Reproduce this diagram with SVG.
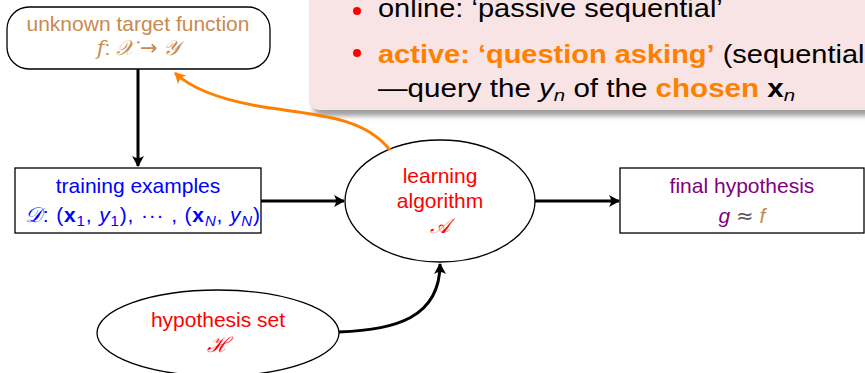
<svg xmlns="http://www.w3.org/2000/svg" width="865" height="373" viewBox="0 0 865 373">
<style>
text{font-family:"Liberation Sans",Arial,sans-serif;font-size:21px}
.node{fill:#fff;stroke:#000;stroke-width:1.3}
.conn{fill:none;stroke:#000;stroke-width:3}
.tan{fill:#c88a4e}
.blue{fill:#0000ff}
.red{fill:#ff0000}
.pur{fill:#800080}
.it{font-style:italic}
.math{font-family:"DejaVu Serif","Liberation Serif",serif}
.sym{font-family:"DejaVu Sans",sans-serif}
.pk{font-size:29px}
.b{font-weight:bold}
.or{fill:#ff8000}
</style>
<defs>
<marker id="ah" markerUnits="userSpaceOnUse" markerWidth="14" markerHeight="14" viewBox="-12 -7 14 14" refX="0" refY="0" orient="auto">
<path d="M1,0 L-10,-6 Q-6,0 -10,6 Z" fill="#000"/>
</marker>
<marker id="aho" markerUnits="userSpaceOnUse" markerWidth="14" markerHeight="14" viewBox="-12 -7 14 14" refX="0" refY="0" orient="auto">
<path d="M1,0 L-10,-6 Q-6,0 -10,6 Z" fill="#ff8000"/>
</marker>
<filter id="sh" x="-10%" y="-10%" width="120%" height="130%">
<feGaussianBlur stdDeviation="2.5"/>
</filter>
</defs>

<g id="connectors">
<line class="conn" x1="138" y1="69" x2="138" y2="166" marker-end="url(#ah)"/>
<line class="conn" x1="261" y1="201" x2="344" y2="201" marker-end="url(#ah)"/>
<line class="conn" x1="535" y1="201" x2="619" y2="201" marker-end="url(#ah)"/>
<path class="conn" d="M339,332 C395,330 440,318 440,264" marker-end="url(#ah)"/>
</g>

<g id="target">
<rect class="node" x="7" y="7" width="263" height="62" rx="22" ry="22"/>
<text class="tan" x="138" y="31" text-anchor="middle">unknown target function</text>
<text class="tan" x="138" y="55" text-anchor="middle"><tspan class="it math">f</tspan>: <tspan class="math it">𝒳</tspan> <tspan class="sym">→</tspan> <tspan class="math it">𝒴</tspan></text>
</g>

<g id="training">
<rect class="node" x="15" y="168" width="246" height="65"/>
<text class="blue" x="138" y="193" text-anchor="middle">training examples</text>
<text class="blue" x="25" y="222" textLength="235" lengthAdjust="spacing"><tspan class="math it">𝒟</tspan>: (<tspan class="b">x</tspan><tspan dy="4" font-size="15">1</tspan><tspan dy="-4">, </tspan><tspan class="it">y</tspan><tspan dy="4" font-size="15">1</tspan><tspan dy="-4">), ··· , (</tspan><tspan class="b">x</tspan><tspan dy="4" font-size="15" class="it">N</tspan><tspan dy="-4">, </tspan><tspan class="it">y</tspan><tspan dy="4" font-size="15" class="it">N</tspan><tspan dy="-4">)</tspan></text>
</g>

<g id="learning">
<ellipse class="node" cx="440" cy="201" rx="95" ry="61"/>
<text class="red" x="440" y="183" text-anchor="middle">learning</text>
<text class="red" x="440" y="208" text-anchor="middle">algorithm</text>
<text class="red math it" x="440" y="233" text-anchor="middle">𝒜</text>
</g>

<g id="final">
<rect class="node" x="620" y="168" width="244" height="65"/>
<text class="pur" x="742" y="193" text-anchor="middle">final hypothesis</text>
<text x="742" y="223" text-anchor="middle"><tspan class="pur it">g</tspan> <tspan class="sym" fill="#555">≈</tspan> <tspan class="tan it">f</tspan></text>
</g>

<g id="hypset">
<ellipse class="node" cx="218" cy="333" rx="121" ry="43"/>
<text class="red" x="218" y="327" text-anchor="middle">hypothesis set</text>
<text class="red math it" x="218" y="352" text-anchor="middle">ℋ</text>
</g>

<g id="note">
<rect x="313" y="-20" width="600" height="136" rx="10" fill="#777" opacity="0.7" filter="url(#sh)"/>
<rect x="309" y="-20" width="600" height="130" rx="10" fill="#f8e4e4"/>
<circle cx="357" cy="11" r="4" fill="#ff0000"/>
<circle cx="357" cy="53" r="4" fill="#ff0000"/>
<text class="pk" transform="translate(378,17) scale(1,0.86)">online: ‘passive sequential’</text>
<text class="pk" transform="translate(378,63) scale(1,0.86)"><tspan class="b or">active: ‘question asking’</tspan> (sequential</text>
<text class="pk" transform="translate(378,97) scale(1.02,0.86)">—query the <tspan class="it">y</tspan><tspan class="it" font-size="20" dy="5">n</tspan><tspan dy="-5"> of the </tspan><tspan class="b or">chosen</tspan> <tspan class="b">x</tspan><tspan class="it" font-size="20" dy="5">n</tspan></text>
</g>

<g id="orange-connector">
<path d="M390,150 C365,118 320,115 270,108 C230,102 195,92 175,73" fill="none" stroke="#ff8000" stroke-width="3" marker-end="url(#aho)"/>
</g>
</svg>
